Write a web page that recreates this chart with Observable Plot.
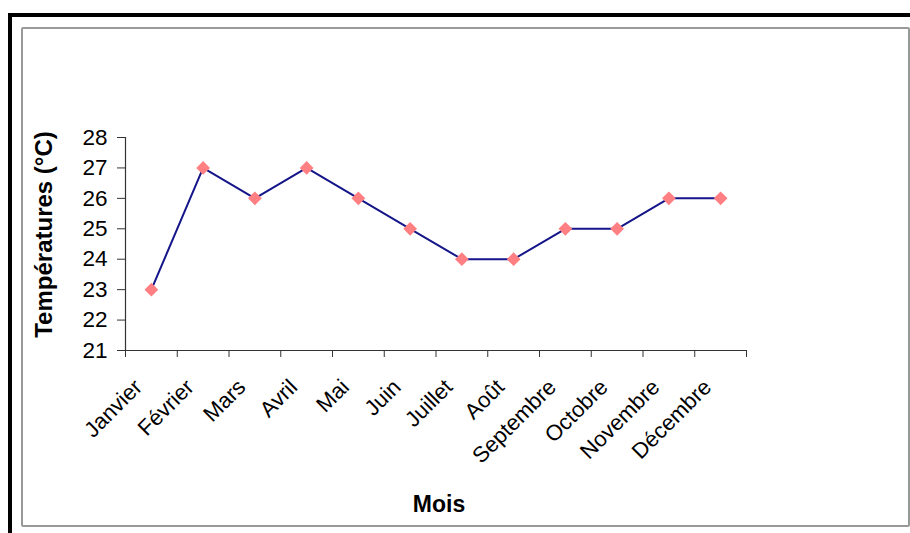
<!DOCTYPE html>
<html>
<head>
<meta charset="utf-8">
<script src="https://cdn.jsdelivr.net/npm/d3@7"></script>
<script src="https://cdn.jsdelivr.net/npm/@observablehq/plot@0.6"></script>
<style>
  html, body { margin: 0; padding: 0; background: #fff; }
  #wrap { position: relative; width: 910px; height: 533px; overflow: hidden; }
  #outer { position: absolute; left: 8px; top: 13px; width: 1000px; height: 600px;
           border-top: 4px solid #000; border-left: 4px solid #000; box-sizing: border-box; }
  #inner { position: absolute; left: 21px; top: 27px; width: 889px; height: 500px;
           border: 2px solid #999; border-radius: 2px; box-sizing: border-box; }
  #chart { position: absolute; left: 0; top: 0; }
</style>
</head>
<body>
<div id="wrap">
  <div id="outer"></div>
  <div id="inner"></div>
  <div id="chart"></div>
</div>
<script>
const months = ["Janvier","Février","Mars","Avril","Mai","Juin","Juillet","Août","Septembre","Octobre","Novembre","Décembre"];
const temperatures = [23, 27, 26, 27, 26, 25, 24, 24, 25, 25, 26, 26];
const yTicks = [21, 22, 23, 24, 25, 26, 27, 28];
const yLabel = "Températures (°C)";
const xLabel = "Mois";

const data = months.map((m, i) => ({mois: m, idx: i + 0.5, t: temperatures[i]}));
const boundaries = d3.range(months.length + 1);

const font = "Arial, 'Liberation Sans', sans-serif";

const chart = Plot.plot({
  width: 910,
  height: 533,
  marginLeft: 125,
  marginRight: 164,
  marginTop: 137,
  marginBottom: 183,
  style: {fontFamily: font, fontSize: "22px", background: "transparent", color: "#000"},
  x: {domain: [0, months.length], axis: null},
  y: {domain: [21, 28], axis: null},
  marks: [
    Plot.axisY(yTicks, {tickSize: 8, tickPadding: 10, fontSize: 22.5, stroke: "#333", fill: "#000", label: null}),
    Plot.axisX(boundaries, {tickSize: 7, tickFormat: () => "", label: null, stroke: "#333"}),
    Plot.text(data, {x: "idx", frameAnchor: "bottom", text: "mois", rotate: -45, textAnchor: "end",
      lineAnchor: "middle", dx: -13, dy: 33, fontSize: 22, fill: "#000"}),
    Plot.ruleX([0], {stroke: "#333", strokeWidth: 1.2}),
    Plot.ruleY([21], {stroke: "#333", strokeWidth: 1.2}),
    Plot.line(data, {x: "idx", y: "t", stroke: "#15158a", strokeWidth: 2}),
    Plot.dot(data, {x: "idx", y: "t", symbol: "diamond2", r: 6.2, fill: "#ff7f82", stroke: "none"}),
    Plot.text([yLabel], {frameAnchor: "left", dx: -81, dy: -9.5, rotate: -90, textAnchor: "middle",
      lineAnchor: "middle", fontSize: 24, fontWeight: "bold", fill: "#000"}),
    Plot.text([xLabel], {frameAnchor: "bottom", dx: 3, dy: 154, lineAnchor: "middle",
      fontSize: 23, fontWeight: "bold", fill: "#000"})
  ]
});
document.getElementById("chart").appendChild(chart);
</script>
</body>
</html>
